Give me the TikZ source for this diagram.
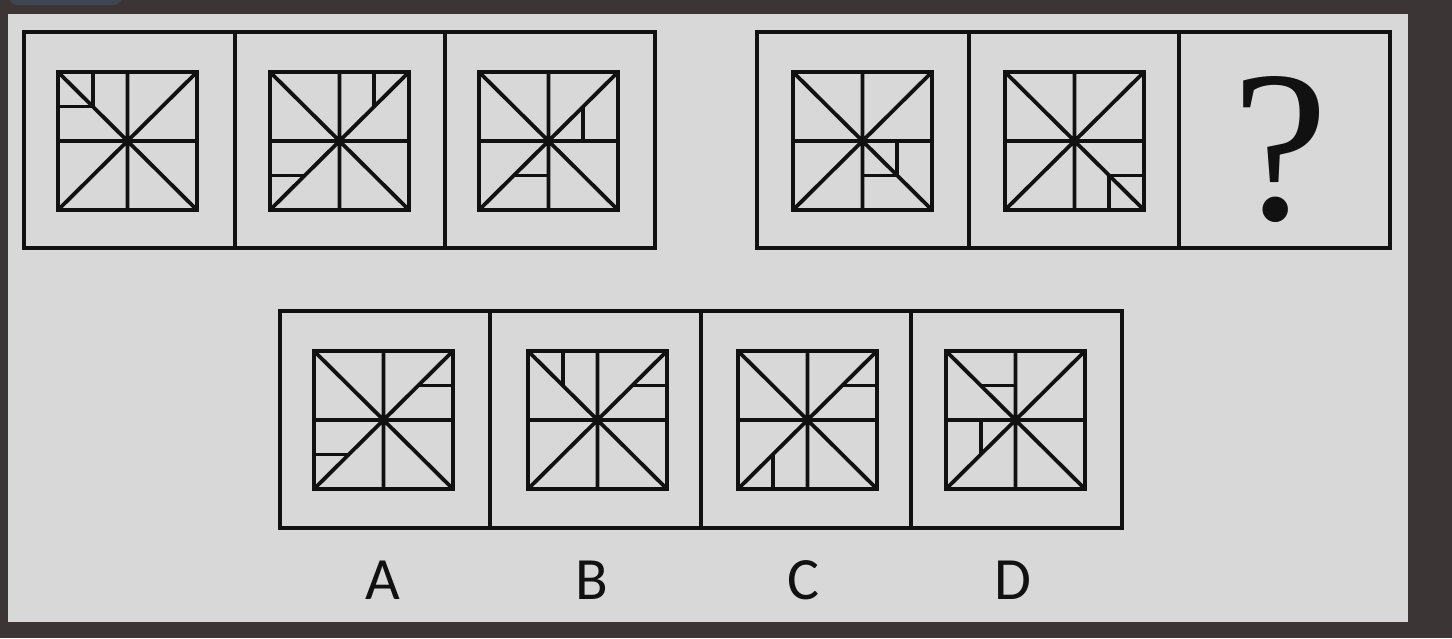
\documentclass[tikz,border=0pt]{standalone}
\usepackage{fontspec}
\newfontfamily\labelfont{Carlito}
\newfontfamily\askfont{Liberation Serif}
\usetikzlibrary{positioning}

\definecolor{outerbg}{HTML}{3B3535}
\definecolor{panelbg}{HTML}{D8D8D8}
\definecolor{tabbg}{HTML}{3E4652}
\definecolor{ink}{HTML}{111111}

% one little square: upper left corner (#1,#2), extra strokes #3
\newcommand{\grille}[3]{%
  \begin{scope}[shift={(#1,#2)}, x=69.5pt, y=-69pt]
    \draw [figline] (0,0) rectangle (1,1);
    \draw [figline] (0.5,0) -- (0.5,1) (0,0.5) -- (1,0.5) (0,0) -- (1,1) (1,0) -- (0,1);
    \draw [figline] #3;
  \end{scope}}

\begin{document}
\begin{tikzpicture}[x=0.5pt, y=-0.5pt]
	\tikzstyle{figline} = [ink, line width=1.9pt, line join=miter]
	\tikzstyle{frame} = [ink, line width=1.6pt]
	\tikzstyle{letter} = [font=\labelfont\fontsize{30}{30}\selectfont, text=ink]
	
	\clip (0,0) rectangle (1452,638);
	\fill [outerbg] (0,0) rectangle (1452,638);
	\fill [panelbg] (8,14) rectangle (1408,622);
	\fill [tabbg, rounded corners=5pt] (8,-12) rectangle (123,5);
	
	% frames
	\draw [frame] (24,32) rectangle (655,248) (235,32) -- (235,248) (445,32) -- (445,248);
	\draw [frame] (757,32) rectangle (1390,248) (969,32) -- (969,248) (1179,32) -- (1179,248);
	\draw [frame] (280,311) rectangle (1122,528) (490,311) -- (490,528) (701,311) -- (701,528) (911,311) -- (911,528);
	
	% given figures
	\grille{58}{72}{(0.25,0) -- (0.25,0.25) -- (0,0.25)}
	\grille{270}{72}{(0.75,0) -- (0.75,0.25) (0,0.75) -- (0.25,0.75)}
	\grille{479}{72}{(0.75,0.25) -- (0.75,0.5) (0.25,0.75) -- (0.5,0.75)}
	\grille{793}{72}{(0.75,0.5) -- (0.75,0.75) -- (0.5,0.75)}
	\grille{1005}{72}{(0.75,1) -- (0.75,0.75) -- (1,0.75)}
	\node [font=\askfont\fontsize{108}{108}\selectfont, text=ink] (ask) at (1280,150) {?};
	
	% options
	\grille{314}{351}{(0.75,0.25) -- (1,0.25) (0,0.75) -- (0.25,0.75)}
	\grille{528}{351}{(0.25,0) -- (0.25,0.25) (0.75,0.25) -- (1,0.25)}
	\grille{738}{351}{(0.75,0.25) -- (1,0.25) (0.25,0.75) -- (0.25,1)}
	\grille{946}{351}{(0.25,0.25) -- (0.5,0.25) (0.25,0.5) -- (0.25,0.75)}
	
	\node [letter] (optA) at (383,580) {A};
	\node [letter] (optB) at (592,580) {B};
	\node [letter] (optC) at (803,580) {C};
	\node [letter] (optD) at (1013,580) {D};
\end{tikzpicture}
\end{document}
